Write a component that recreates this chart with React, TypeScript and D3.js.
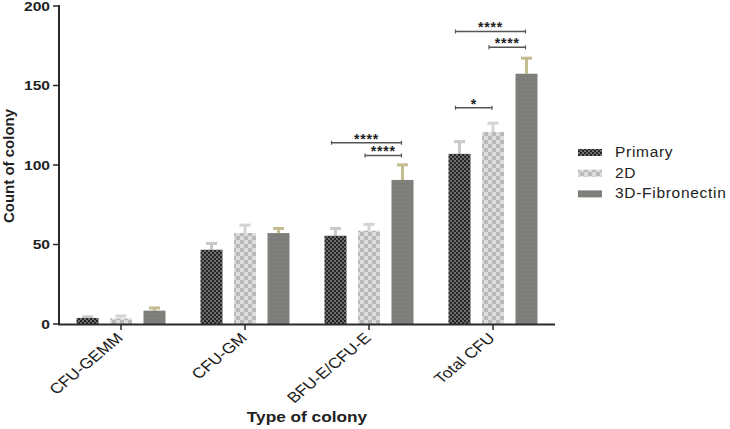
import React from "react";
import * as d3 from "d3";

const categories = ["CFU-GEMM", "CFU-GM", "BFU-E/CFU-E", "Total CFU"];
const seriesNames = ["Primary", "2D", "3D-Fibronectin"];
const primaryVals = [3.8, 46.7, 55.5, 107];
const twoDVals = [3.5, 57.2, 58.7, 120.7];
const threeDVals = [8.4, 57.2, 90.6, 157.4];
const primaryErr = [1.0, 4.3, 4.9, 8];
const twoDErr = [1.9, 5.3, 4.3, 5.9];
const threeDErr = [2.0, 3.2, 9.8, 10.1];
const yTicks = [0, 50, 100, 150, 200];

const brackets = [
  { cat: "BFU-E/CFU-E", from: 0, to: 2, y: 114, label: "****" },
  { cat: "BFU-E/CFU-E", from: 1, to: 2, y: 106, label: "****" },
  { cat: "Total CFU", from: 0, to: 2, y: 184, label: "****" },
  { cat: "Total CFU", from: 1, to: 2, y: 174, label: "****" },
  { cat: "Total CFU", from: 0, to: 1, y: 136, label: "*" },
];

const W = 730;
const H = 429;

export default function App() {
  const x = d3.scaleBand<string>().domain(categories).range([59, 555]).padding(0);
  const y = d3.scaleLinear().domain([0, 200]).range([324, 6]);
  const offset = 33.5;
  const bw = 22;
  const values = [primaryVals, twoDVals, threeDVals];
  const errs = [primaryErr, twoDErr, threeDErr];
  const fills = ["url(#pPrimary)", "url(#p2D)", "url(#p3D)"];
  const errColors = ["#c9c9c9", "#d4d4d4", "#c3bc8e"];
  const center = (cat: string) => (x(cat) ?? 0) + x.bandwidth() / 2;
  const barCenter = (cat: string, s: number) => center(cat) + (s - 1) * offset;

  return (
    <svg width={W} height={H} style={{ display: "block", position: "absolute", left: 0, top: 0 }}
      fontFamily="'Liberation Sans', Arial, sans-serif">
      <defs>
        <pattern id="pPrimary" width="4" height="4" patternUnits="userSpaceOnUse">
          <rect width="4" height="4" fill="#6e6e6e" />
          <rect x="0" y="0" width="2" height="2" fill="#262626" />
          <rect x="2" y="2" width="2" height="2" fill="#262626" />
        </pattern>
        <pattern id="p2D" width="8" height="8" patternUnits="userSpaceOnUse">
          <rect width="8" height="8" fill="#dcdcdc" />
          <rect x="0" y="0" width="4" height="4" fill="#b9b9b9" />
          <rect x="4" y="4" width="4" height="4" fill="#b9b9b9" />
        </pattern>
        <pattern id="p3D" width="4" height="4" patternUnits="userSpaceOnUse">
          <rect width="4" height="4" fill="#7d7d7a" />
          <rect x="1" y="1" width="1" height="1" fill="#939390" />
        </pattern>
      </defs>

      {/* error bars */}
      {values.map((vals, s) =>
        categories.map((c, i) => {
          const cx = barCenter(c, s);
          const top = y(vals[i] + errs[s][i]);
          return (
            <g key={`e${s}-${i}`}>
              <rect x={cx - 1.5} y={top} width={3} height={y(vals[i]) - top} fill={errColors[s]} />
              <rect x={cx - 5.5} y={top - 1} width={11} height={3} fill={errColors[s]} />
            </g>
          );
        })
      )}

      {/* bars */}
      {values.map((vals, s) =>
        categories.map((c, i) => (
          <rect key={`b${s}-${i}`} x={barCenter(c, s) - bw / 2} y={y(vals[i])} width={bw}
            height={y(0) - y(vals[i])} fill={fills[s]} />
        ))
      )}

      {/* axes */}
      <line x1={59} x2={59} y1={5} y2={325} stroke="#2a2a2a" strokeWidth={2} />
      <line x1={58} x2={555} y1={324.5} y2={324.5} stroke="#2a2a2a" strokeWidth={2} />
      {yTicks.map((t) => (
        <g key={`yt${t}`}>
          <line x1={53} x2={59} y1={y(t)} y2={y(t)} stroke="#2a2a2a" strokeWidth={1.5} />
          <text transform={`translate(50,${y(t) + 4.5}) scale(1.25,1)`} textAnchor="end" fontSize={12.5}
            fontWeight="bold" fill="#222">{t}</text>
        </g>
      ))}
      {categories.map((c) => (
        <g key={`xt${c}`}>
          <line x1={center(c)} x2={center(c)} y1={324} y2={330} stroke="#2a2a2a" strokeWidth={1.5} />
          <text transform={`translate(${center(c) + 3},${339}) scale(1.2,1) rotate(-45)`} textAnchor="end"
            fontSize={14.5} fill="#1a1a1a">{c}</text>
        </g>
      ))}

      {/* axis titles */}
      <text transform="translate(307,422) scale(1.15,1)" textAnchor="middle" fontSize={15} fontWeight="bold" fill="#222">
        Type of colony
      </text>
      <text transform="translate(14,166) rotate(-90)" textAnchor="middle" fontSize={15} fontWeight="bold" fill="#222">
        Count of colony
      </text>

      {/* significance brackets */}
      {brackets.map((b, i) => {
        const x1 = barCenter(b.cat, b.from) - 4;
        const x2 = barCenter(b.cat, b.to) - 1;
        const yy = y(b.y);
        return (
          <g key={`br${i}`}>
            <line x1={x1} x2={x2} y1={yy} y2={yy} stroke="#555" strokeWidth={1.5} />
            <line x1={x1} x2={x1} y1={yy - 2} y2={yy + 2} stroke="#555" strokeWidth={1.2} />
            <line x1={x2} x2={x2} y1={yy - 2} y2={yy + 2} stroke="#555" strokeWidth={1.2} />
            <text x={(x1 + x2) / 2} y={yy + 1} textAnchor="middle" fontSize={14} fontWeight="bold"
              letterSpacing={0.8} fill="#222">{b.label}</text>
          </g>
        );
      })}

      {/* legend */}
      {seriesNames.map((n, i) => (
        <g key={`lg${n}`}>
          <rect x={578} y={149 + i * 20.7} width={24} height={7} fill={fills[i]} />
          <text x={615} y={157 + i * 20.7} fontSize={15.5} letterSpacing={0.7} fill="#222">{n}</text>
        </g>
      ))}
    </svg>
  );
}
